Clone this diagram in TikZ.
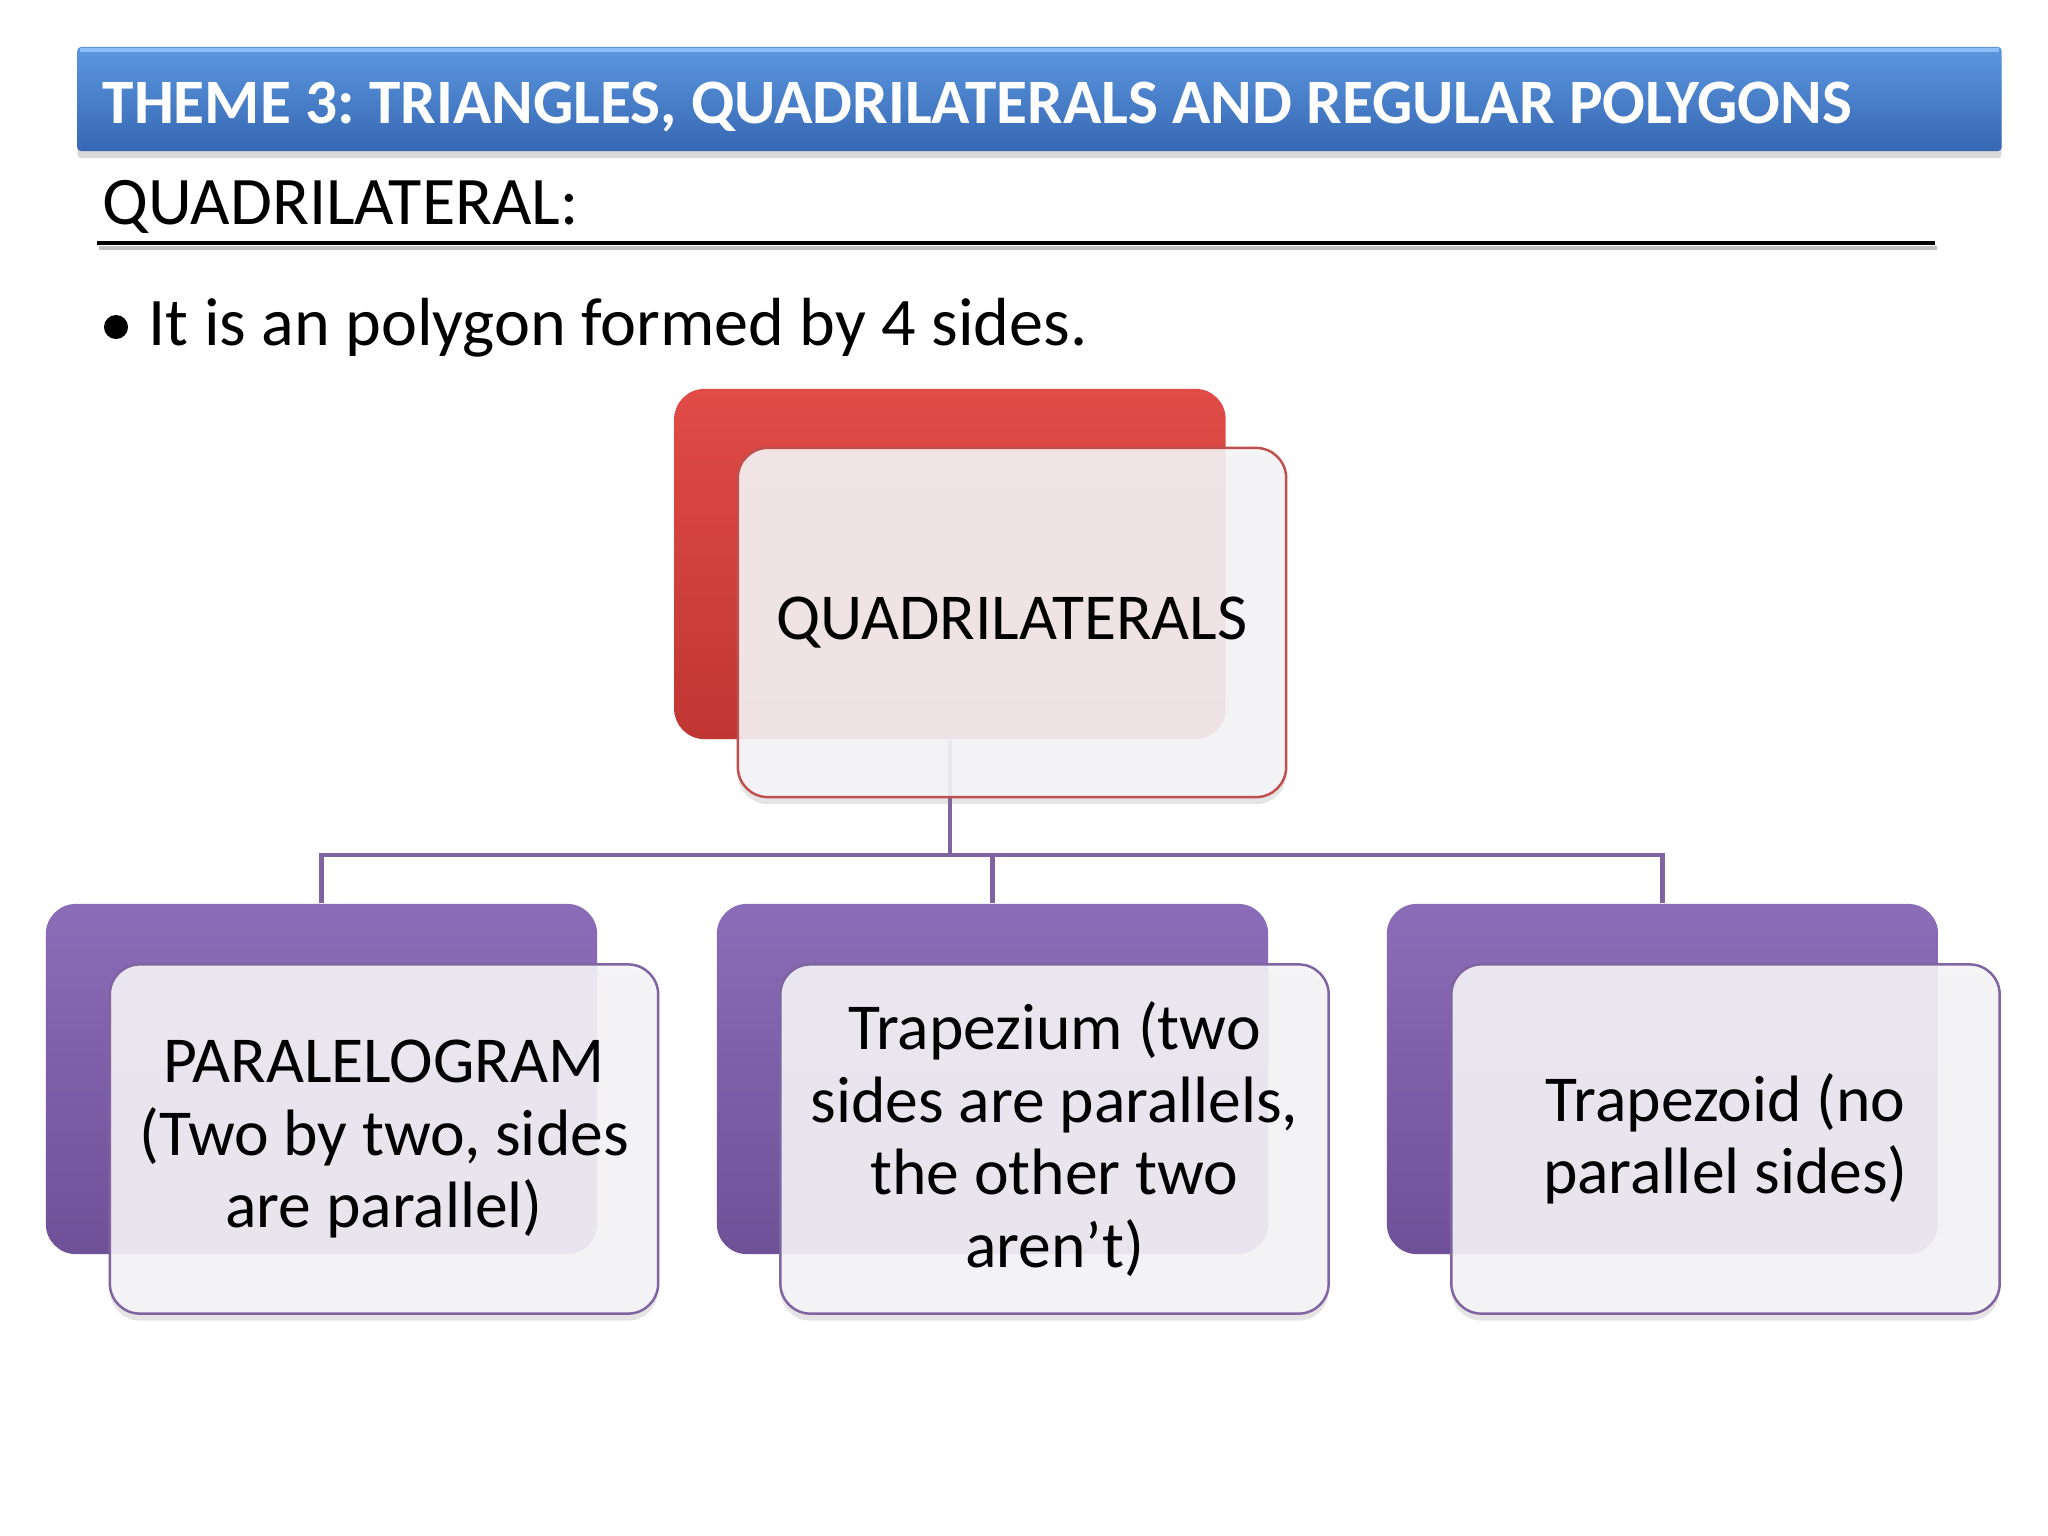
\documentclass[tikz,border=0pt]{standalone}
\usepackage{fontspec}
\setmainfont{Carlito}
\usetikzlibrary{shadows}
\frenchspacing
\definecolor{titletop}{HTML}{5B97E0}
\definecolor{titlebot}{HTML}{3767B2}
\definecolor{titleedge}{HTML}{8CBDF5}
\definecolor{redtop}{HTML}{E04B46}
\definecolor{redmid}{HTML}{D6443F}
\definecolor{redbot}{HTML}{C03632}
\definecolor{redline}{HTML}{C0504D}
\definecolor{purtop}{HTML}{8A6CB8}
\definecolor{purmid}{HTML}{8062AD}
\definecolor{purbot}{HTML}{6F5198}
\definecolor{purline}{HTML}{8064A2}
\definecolor{frontfill}{HTML}{F5F4F7}
\tikzset{
  backbox/.style={rectangle, rounded corners=0.3cm, minimum width=5.51cm, minimum height=3.50cm, inner sep=0pt},
  redback/.style={backbox, top color=redtop, middle color=redmid, bottom color=redbot},
  purback/.style={backbox, top color=purtop, middle color=purmid, bottom color=purbot},
  frontbox/.style={rectangle, rounded corners=0.3cm, minimum width=5.48cm, minimum height=3.49cm, inner sep=0pt,
    fill=frontfill, fill opacity=0.9, text opacity=1, line width=0.7pt, align=center,
    font=\fontsize{18.65}{20.6}\selectfont,
    drop shadow={shadow xshift=0pt, shadow yshift=-0.07cm, opacity=0.2}},
  redfront/.style={frontbox, draw=redline},
  purfront/.style={frontbox, draw=purline},
  conn/.style={draw=purline, line width=1.3pt},
}
\begin{document}
\begin{tikzpicture}[x=0.01cm, y=-0.01cm]
\useasboundingbox (0,0) rectangle (2048,1536);
\fill[white] (0,0) rectangle (2048,1536);

% title bar
\node (titlebar) [rectangle, rounded corners=1pt, minimum width=19.23cm, minimum height=1.04cm, inner sep=0pt,
  top color=titletop, bottom color=titlebot,
  drop shadow={shadow xshift=0pt, shadow yshift=-0.07cm, opacity=0.3}] at (1039.5,99) {};
\draw[titleedge, line width=1.2pt] (80,50) -- (1999,50);
\node (title) [anchor=base west, inner sep=0pt, text=white, font=\fontsize{18.0}{20}\selectfont\bfseries]
  at (102,123) {THEME 3: TRIANGLES, QUADRILATERALS AND REGULAR POLYGONS};

% subtitle and rule
\node (subtitle) [anchor=base west, inner sep=0pt, font=\fontsize{19.36}{22}\selectfont] at (102,224) {QUADRILATERAL:};
\draw[black!25, line width=1.4pt] (99,248) -- (1937,248);
\draw[black, line width=1.4pt] (97,243) -- (1935,243);

% bullet
\node (dot) [circle, fill=black, minimum size=0.24cm, inner sep=0pt] at (116,327) {};
\node (bullettext) [anchor=base west, inner sep=0pt, font=\fontsize{19.37}{22}\selectfont] at (148,345)
  {It is an polygon formed by 4 sides.};

% back boxes
\node (qback) [redback] at (950,564) {};
\node (pback) [purback] at (321.5,1079) {};
\node (tback) [purback] at (992.5,1079) {};
\node (zback) [purback] at (1662.5,1079) {};

% connectors
\coordinate (hub) at (950,855);
\draw[conn] (qback.south) -- (hub);
\draw[conn] (hub) -| (pback.north);
\draw[conn] (hub) -| (tback.north);
\draw[conn] (hub) -| (zback.north);

% front boxes
\node (qfront) [redfront] at (1012,622.5) {QUADRILATERALS};
\node (pfront) [purfront] at (384,1139) {PARALELOGRAM\\(Two by two, sides\\are parallel)};
\node (tfront) [purfront] at (1054.5,1139) {Trapezium (two\\sides are parallels,\\the other two\\aren’t)};
\node (zfront) [purfront] at (1725.5,1139) {Trapezoid (no\\parallel sides)};
\end{tikzpicture}
\end{document}
